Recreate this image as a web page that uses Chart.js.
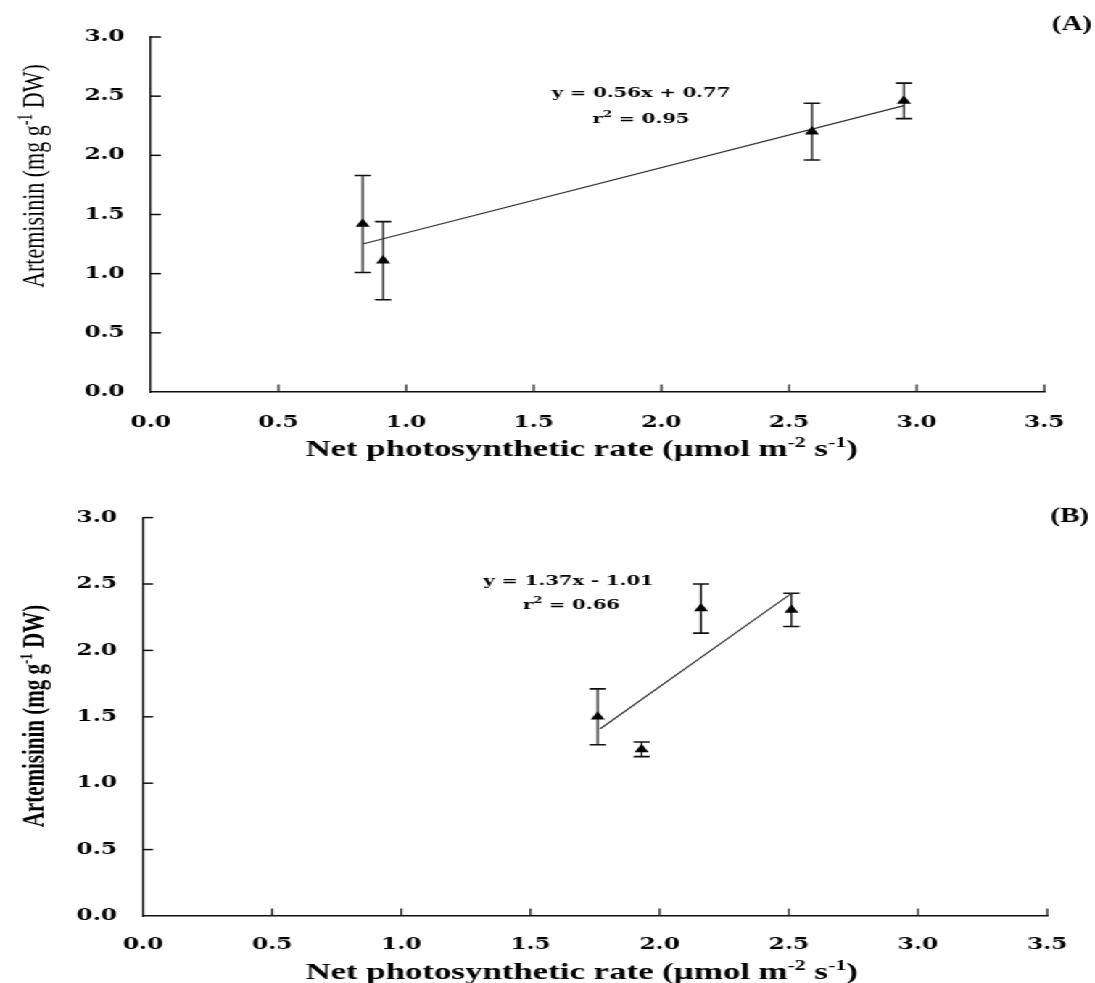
<!DOCTYPE html>
<html><head><meta charset="utf-8">
<script src="https://cdn.jsdelivr.net/npm/chart.js@4.4.1/dist/chart.umd.min.js"></script>
<style>
html,body{margin:0;padding:0;background:#fff;overflow:hidden;width:1095px;height:983px}
#wrap{position:absolute;left:0;top:0;width:755px;height:983px;transform:scaleX(1.4503);transform-origin:0 0}
.box{position:absolute;left:0;width:755px}
#boxA{top:0;height:490px}
#boxB{top:490px;height:493px}
</style></head><body>
<div id="wrap">
  <div class="box" id="boxA"><canvas id="cA"></canvas></div>
  <div class="box" id="boxB"><canvas id="cB"></canvas></div>
</div>
<script>
// ---- data ----
const xTickVals = [0, 0.5, 1.0, 1.5, 2.0, 2.5, 3.0, 3.5];
const xTickLabels = ['0.0','0.5','1.0','1.5','2.0','2.5','3.0','3.5'];
const yTickVals = [0, 0.5, 1.0, 1.5, 2.0, 2.5, 3.0];
const yTickLabels = ['0.0','0.5','1.0','1.5','2.0','2.5','3.0'];

// Panel A
const rateA = [0.83, 0.91, 2.59, 2.95];
const artA  = [1.42, 1.11, 2.20, 2.46];
const errA  = [0.41, 0.33, 0.24, 0.15];
const fitAx = [0.83, 2.95];
const fitAy = [1.25, 2.42];
// Panel B
const rateB = [1.76, 1.93, 2.16, 2.51];
const artB  = [1.50, 1.255, 2.315, 2.305];
const errB  = [0.21, 0.055, 0.185, 0.125];
const fitBx = [1.77, 2.51];
const fitBy = [1.41, 2.43];

const eqA = [['y = 0.56x + 0.77', false]];
const r2A = [['r', false], ['2', true], [' = 0.95', false]];
const eqB = [['y = 1.37x - 1.01', false]];
const r2B = [['r', false], ['2', true], [' = 0.66', false]];
const yTitle = [['Artemisinin (mg g', false], ['-1', true], [' DW)', false]];
const xTitle = [['Net photosynthetic rate (\u00b5mol m', false], ['-2', true], [' s', false], ['-1', true], [')', false]];

function rich(ctx, parts, x, y, align, base, sup, rise) {
  let w = 0;
  parts.forEach(p => { ctx.font = p[1] ? sup : base; w += ctx.measureText(p[0]).width; });
  let cx = align === 'center' ? x - w / 2 : (align === 'right' ? x - w : x);
  ctx.textAlign = 'left'; ctx.textBaseline = 'alphabetic';
  parts.forEach(p => {
    ctx.font = p[1] ? sup : base;
    ctx.fillText(p[0], cx, p[1] ? y - rise : y);
    cx += ctx.measureText(p[0]).width;
  });
}

function makeDeco(c) {
  return {
    id: 'deco',
    beforeDatasetsDraw(chart) {
      const ctx = chart.ctx, xs = chart.scales.x, ys = chart.scales.y;
      const ca = chart.chartArea;
      ctx.save();
      ctx.strokeStyle = '#111';
      // inward tick marks
      ctx.lineWidth = 1.2;
      xTickVals.forEach(v => {
        if (v === 0) return;
        const px = xs.getPixelForValue(v);
        ctx.beginPath(); ctx.moveTo(px, ca.bottom); ctx.lineTo(px, ca.bottom - 7.5); ctx.stroke();
      });
      ctx.lineWidth = 1.5;
      yTickVals.forEach(v => {
        if (v === 0) return;
        const py = ys.getPixelForValue(v);
        ctx.beginPath(); ctx.moveTo(ca.left, py); ctx.lineTo(ca.left + 7, py); ctx.stroke();
      });
      // error bars
      c.xs.forEach((x, i) => {
        const px = xs.getPixelForValue(x);
        const t = ys.getPixelForValue(c.ys[i] + c.es[i]);
        const b = ys.getPixelForValue(c.ys[i] - c.es[i]);
        ctx.lineWidth = 1.25;
        ctx.beginPath(); ctx.moveTo(px, t); ctx.lineTo(px, b); ctx.stroke();
        ctx.lineWidth = 1.6;
        ctx.beginPath(); ctx.moveTo(px - 5.6, t); ctx.lineTo(px + 5.6, t);
        ctx.moveTo(px - 5.6, b); ctx.lineTo(px + 5.6, b); ctx.stroke();
      });
      ctx.restore();
    },
    afterDraw(chart) {
      const ctx = chart.ctx;
      ctx.save();
      ctx.fillStyle = '#000';
      // equations
      rich(ctx, c.eq, c.eqX, c.eqY, 'center', 'bold 13.5px "DejaVu Serif"', 'bold 9px "DejaVu Serif"', 5);
      rich(ctx, c.r2, c.r2X, c.r2Y, 'center', 'bold 13.5px "DejaVu Serif"', 'bold 9px "DejaVu Serif"', 6);
      // panel label
      ctx.font = 'bold 20px "Liberation Serif"';
      ctx.textAlign = 'right'; ctx.textBaseline = 'alphabetic';
      ctx.fillText(c.panel, c.panelX, c.panelY);
      // x title
      rich(ctx, xTitle, c.xtX, c.xtY, 'center', 'bold 24px "Liberation Serif"', 'bold 15px "Liberation Serif"', 9);
      // y title (rotated)
      ctx.translate(c.ytX, c.ytY);
      ctx.rotate(-Math.PI / 2);
      rich(ctx, yTitle, 0, 0, 'center', c.ytFont + ' "Liberation Serif"', c.ytSup + ' "Liberation Serif"', 8);
      ctx.restore();
    }
  };
}

function makeChart(id, c) {
  return new Chart(document.getElementById(id), {
    type: 'scatter',
    data: {
      datasets: [
        { data: c.xs.map((x, i) => ({ x: x, y: c.ys[i] })), showLine: false,
          pointStyle: 'triangle', pointRadius: 5.6, pointBackgroundColor: '#000',
          pointBorderColor: '#000', pointBorderWidth: 0, order: 0 },
        { data: c.fx.map((x, i) => ({ x: x, y: c.fy[i] })), showLine: true,
          pointRadius: 0, borderColor: '#333', borderWidth: 1.1, fill: false, order: 1 }
      ]
    },
    options: {
      responsive: true, maintainAspectRatio: false, animation: false, events: [],
      layout: { padding: { left: 0, top: c.top, right: c.right, bottom: 0 } },
      plugins: { legend: { display: false }, tooltip: { enabled: false } },
      scales: {
        x: {
          type: 'linear', min: 0, max: 3.5,
          afterBuildTicks: s => { s.ticks = xTickVals.map(v => ({ value: v })); },
          afterFit: s => { s.height = c.xh; },
          grid: { display: false, drawTicks: false },
          border: { display: true, color: '#111', width: 1.5 },
          ticks: { padding: c.xpad, color: '#000', maxRotation: 0, autoSkip: false,
            font: { family: 'DejaVu Serif', weight: 'bold', size: 16 },
            callback: (v, i) => xTickLabels[i] }
        },
        y: {
          type: 'linear', min: 0, max: 3,
          afterBuildTicks: s => { s.ticks = yTickVals.map(v => ({ value: v })); },
          afterFit: s => { s.width = c.yw; },
          grid: { display: false, drawTicks: false },
          border: { display: true, color: '#111', width: 1.3 },
          ticks: { padding: c.ypad, color: '#000', autoSkip: false,
            font: { family: 'DejaVu Serif', weight: 'bold', size: 16 },
            callback: (v, i) => yTickLabels[i] }
        }
      }
    },
    plugins: [makeDeco(c)]
  });
}

makeChart('cA', {
  xs: rateA, ys: artA, es: errA, fx: fitAx, fy: fitAy,
  top: 37, right: 21, xh: 98, yw: 104, xpad: 21, ypad: 18,
  eq: eqA, eqX: 442, eqY: 97, r2: r2A, r2X: 442, r2Y: 123,
  panel: '(A)', panelX: 753, panelY: 30,
  xtX: 401, xtY: 456, ytX: 30, ytY: 176, ytFont: '22px', ytSup: '14px'
});
makeChart('cB', {
  xs: rateB, ys: artB, es: errB, fx: fitBx, fy: fitBy,
  top: 24, right: 15.7, xh: 67, yw: 98.6, xpad: 19, ypad: 18,
  eq: eqB, eqX: 392, eqY: 95, r2: r2B, r2X: 394, r2Y: 119,
  panel: '(B)', panelX: 751, panelY: 32,
  xtX: 401, xtY: 489, ytX: 29.5, ytY: 226, ytFont: 'bold 21px', ytSup: 'bold 13px'
});
</script>
</body></html>
